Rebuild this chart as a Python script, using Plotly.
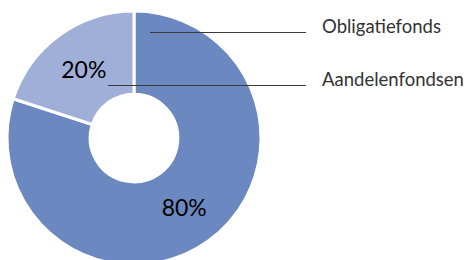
import plotly.graph_objects as go

labels = ["Obligatiefonds", "Aandelenfondsen"]
values = [80, 20]
colors = ["#6b88c0", "#a0afd7"]

W, H = 472, 272  # canvas slightly taller than viewport: the ring is cut off at the bottom, as in the reference

def px(x):
    return x / W

def py(y):
    return 1 - y / H

fig = go.Figure(go.Pie(
    labels=labels,
    values=values,
    sort=False,
    direction="clockwise",
    rotation=0,
    hole=0.345,
    marker=dict(colors=colors, line=dict(color="white", width=3)),
    textinfo="percent",
    texttemplate="%{percent:.0%}",
    textposition="inside",
    insidetextorientation="horizontal",
    textfont=dict(family="Lato", size=23, color="#000000"),
    domain=dict(x=[px(7), px(261)], y=[py(265), py(11)]),
    showlegend=False,
    hoverinfo="label+percent",
))

# leader lines and labels
leaders = [(150, 32.5), (108, 85.5)]
shapes = []
annotations = []
for (x0, y0), lab in zip(leaders, labels):
    shapes.append(dict(type="line", xref="paper", yref="paper",
                       x0=px(x0), x1=px(306), y0=py(y0), y1=py(y0),
                       line=dict(color="#3a3a3a", width=1)))
    annotations.append(dict(text=lab, xref="paper", yref="paper",
                            x=px(320), y=py(y0 - 7), xanchor="left", yanchor="middle",
                            showarrow=False,
                            font=dict(family="Lato", size=18.5, color="#333333")))

fig.update_layout(
    width=W, height=H,
    margin=dict(l=0, r=0, t=0, b=0),
    paper_bgcolor="white",
    plot_bgcolor="white",
    shapes=shapes,
    annotations=annotations,
)

fig.write_html("out.html", config={"displayModeBar": False},
               post_script="document.body.style.overflow='hidden';document.body.style.margin='0';")
